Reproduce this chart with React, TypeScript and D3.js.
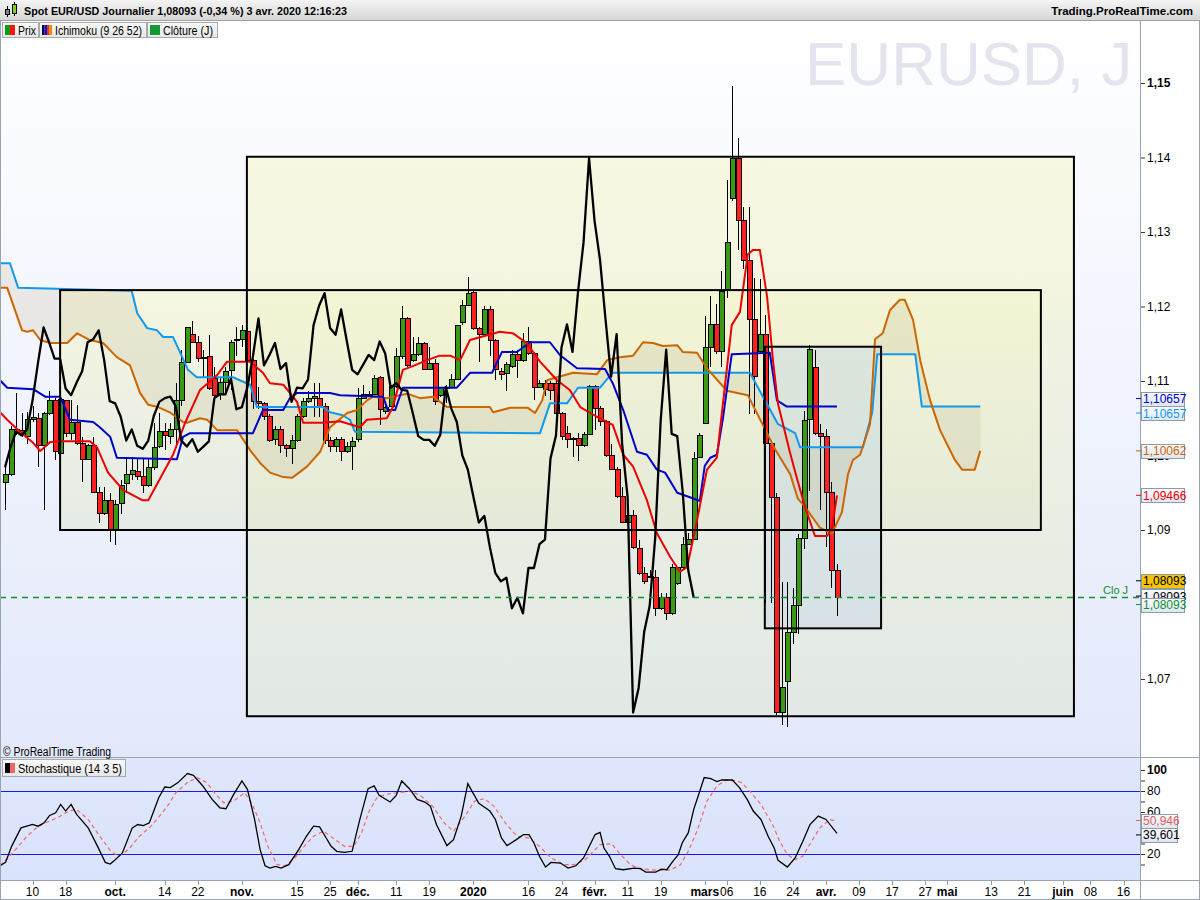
import { useEffect, useRef } from 'react';
import * as d3 from 'd3';

// EUR/USD daily candles, 3 sept. 2019 -> 3 avr. 2020
const opens = [
  1.0964, 1.0974, 1.1035, 1.1034, 1.1025, 1.1048, 1.1050, 1.1014, 1.1057, 1.1074,
  1.1003, 1.1074, 1.1030, 1.1044, 1.1016, 1.0995, 1.1014, 1.0951, 1.0922, 1.0940,
  1.0900, 1.0935, 1.0962, 1.0975, 1.0978, 1.0972, 1.0960, 1.0984, 1.1012, 1.1032,
  1.1025, 1.1035, 1.1074, 1.1125, 1.1163, 1.1152, 1.1132, 1.1133, 1.1103, 1.1083,
  1.1098, 1.1114, 1.1154, 1.1156, 1.1166, 1.1128, 1.1073, 1.1070, 1.1053, 1.1022,
  1.1035, 1.1013, 1.1009, 1.1020, 1.1052, 1.1073, 1.1077, 1.1077, 1.1066, 1.1020,
  1.1012, 1.1022, 1.1005, 1.1012, 1.1021, 1.1077, 1.1081, 1.1082, 1.1105, 1.1059,
  1.1066, 1.1092, 1.1133, 1.1184, 1.1127, 1.1136, 1.1151, 1.1116, 1.1124, 1.1080,
  1.1091, 1.1091, 1.1102, 1.1178, 1.1201, 1.1219, 1.1171, 1.1162, 1.1196, 1.1155,
  1.1113, 1.1110, 1.1120, 1.1135, 1.1128, 1.1153, 1.1137, 1.1091, 1.1097, 1.1096,
  1.1096, 1.1056, 1.1030, 1.1023, 1.1023, 1.1013, 1.1028, 1.1093, 1.1063, 1.1045,
  1.1000, 1.0981, 1.0945, 1.0910, 1.0919, 1.0875, 1.0842, 1.0838, 1.0836, 1.0795,
  1.0809, 1.0788, 1.0828, 1.0849, 1.0881, 1.0887, 1.0997, 1.1043, 1.1145, 1.1176,
  1.1139, 1.1223, 1.1345, 1.1399, 1.1315, 1.1262, 1.1182, 1.1139, 1.1163, 1.1016,
  1.0944, 1.0655, 1.0697, 1.0763, 1.0798, 1.0889, 1.1048, 1.1118, 1.1029, 1.1026,
  1.0951, 1.0845,
];
const highs = [
  1.0985, 1.1039, 1.1084, 1.1057, 1.1059, 1.1066, 1.1057, 1.1059, 1.1086, 1.1077,
  1.1078, 1.1075, 1.1075, 1.1068, 1.1025, 1.1016, 1.1025, 1.0958, 1.0958, 1.0949,
  1.0940, 1.0967, 1.0998, 1.0998, 1.0996, 1.0996, 1.0996, 1.1043, 1.1057, 1.1043,
  1.1043, 1.1097, 1.1142, 1.1173, 1.1180, 1.1160, 1.1142, 1.1162, 1.1119, 1.1106,
  1.1119, 1.1155, 1.1173, 1.1175, 1.1171, 1.1130, 1.1092, 1.1072, 1.1056, 1.1039,
  1.1039, 1.1016, 1.1027, 1.1056, 1.1077, 1.1086, 1.1097, 1.1097, 1.1070, 1.1025,
  1.1025, 1.1025, 1.1018, 1.1025, 1.1090, 1.1094, 1.1086, 1.1108, 1.1107, 1.1068,
  1.1094, 1.1144, 1.1201, 1.1186, 1.1159, 1.1159, 1.1153, 1.1146, 1.1130, 1.1092,
  1.1094, 1.1110, 1.1175, 1.1209, 1.1240, 1.1222, 1.1173, 1.1200, 1.1200, 1.1157,
  1.1117, 1.1126, 1.1142, 1.1142, 1.1164, 1.1173, 1.1139, 1.1101, 1.1101, 1.1100,
  1.1101, 1.1059, 1.1039, 1.1025, 1.1030, 1.1032, 1.1095, 1.1095, 1.1066, 1.1048,
  1.1016, 1.0985, 1.0958, 1.0920, 1.0927, 1.0887, 1.0851, 1.0846, 1.0846, 1.0815,
  1.0815, 1.0855, 1.0851, 1.0891, 1.0896, 1.1005, 1.1030, 1.1187, 1.1214, 1.1203,
  1.1248, 1.1370, 1.1496, 1.1426, 1.1334, 1.1334, 1.1238, 1.1237, 1.1189, 1.1016,
  1.0950, 1.0830, 1.0830, 1.0822, 1.0894, 1.1060, 1.1148, 1.1142, 1.1042, 1.1036,
  1.0964, 1.0855,
];
const lows = [
  1.0927, 1.0972, 1.1028, 1.1025, 1.1016, 1.1045, 1.0985, 1.0927, 1.1055, 1.0994,
  1.1001, 1.1025, 1.1021, 1.1014, 1.0965, 1.0994, 1.0949, 1.0909, 1.0920, 1.0884,
  1.0880, 1.0922, 1.0949, 1.0967, 1.0967, 1.0949, 1.0958, 1.0981, 1.1010, 1.1008,
  1.1016, 1.1010, 1.1066, 1.1124, 1.1151, 1.1126, 1.1106, 1.1088, 1.1079, 1.1075,
  1.1083, 1.1088, 1.1133, 1.1146, 1.1127, 1.1063, 1.1063, 1.1048, 1.1018, 1.1014,
  1.1003, 1.0998, 1.0989, 1.1018, 1.1050, 1.1070, 1.1052, 1.1052, 1.1016, 1.1005,
  1.1005, 1.0992, 1.1003, 1.0981, 1.1018, 1.1077, 1.1079, 1.1081, 1.1041, 1.1056,
  1.1065, 1.1090, 1.1130, 1.1119, 1.1126, 1.1133, 1.1115, 1.1115, 1.1068, 1.1079,
  1.1070, 1.1090, 1.1101, 1.1175, 1.1200, 1.1169, 1.1126, 1.1159, 1.1133, 1.1101,
  1.1101, 1.1086, 1.1117, 1.1104, 1.1126, 1.1135, 1.1075, 1.1090, 1.1080, 1.1075,
  1.1055, 1.1021, 1.1010, 1.0998, 1.0992, 1.1012, 1.1027, 1.1034, 1.1039, 1.0998,
  1.0980, 1.0943, 1.0909, 1.0909, 1.0875, 1.0840, 1.0828, 1.0835, 1.0784, 1.0793,
  1.0779, 1.0786, 1.0826, 1.0846, 1.0880, 1.0886, 1.0996, 1.1042, 1.1119, 1.1136,
  1.1119, 1.1212, 1.1342, 1.1276, 1.1251, 1.1056, 1.1056, 1.1136, 1.0802, 1.0802,
  1.0652, 1.0638, 1.0635, 1.0747, 1.0760, 1.0875, 1.0953, 1.1028, 1.0927, 1.0877,
  1.0822, 1.0785,
];
const closes = [
  1.0974, 1.1035, 1.1030, 1.1029, 1.1048, 1.1051, 1.1014, 1.1057, 1.1074, 1.1005,
  1.1075, 1.1030, 1.1044, 1.1016, 1.0995, 1.1014, 1.0951, 1.0922, 1.0940, 1.0900,
  1.0934, 1.0960, 1.0974, 1.0980, 1.0972, 1.0960, 1.0984, 1.1011, 1.1032, 1.1027,
  1.1035, 1.1074, 1.1125, 1.1172, 1.1152, 1.1130, 1.1130, 1.1090, 1.1081, 1.1098,
  1.1113, 1.1152, 1.1156, 1.1168, 1.1128, 1.1073, 1.1070, 1.1052, 1.1020, 1.1035,
  1.1013, 1.1009, 1.1020, 1.1053, 1.1072, 1.1077, 1.1079, 1.1066, 1.1020, 1.1012,
  1.1022, 1.1005, 1.1012, 1.1019, 1.1077, 1.1082, 1.1082, 1.1103, 1.1062, 1.1065,
  1.1092, 1.1133, 1.1184, 1.1121, 1.1135, 1.1151, 1.1116, 1.1124, 1.1072, 1.1091,
  1.1090, 1.1102, 1.1175, 1.1201, 1.1218, 1.1171, 1.1162, 1.1196, 1.1155, 1.1115,
  1.1109, 1.1122, 1.1135, 1.1128, 1.1153, 1.1137, 1.1091, 1.1097, 1.1088, 1.1087,
  1.1057, 1.1026, 1.1021, 1.1021, 1.1013, 1.1028, 1.1092, 1.1063, 1.1045, 1.1000,
  1.0981, 1.0945, 1.0910, 1.0919, 1.0877, 1.0842, 1.0831, 1.0836, 1.0795, 1.0809,
  1.0788, 1.0849, 1.0849, 1.0881, 1.0887, 1.0996, 1.1027, 1.1145, 1.1176, 1.1139,
  1.1220, 1.1286, 1.1399, 1.1315, 1.1262, 1.1182, 1.1106, 1.1163, 1.1016, 1.0944,
  1.0655, 1.0688, 1.0763, 1.0798, 1.0889, 1.1047, 1.1142, 1.1029, 1.1026, 1.0951,
  1.0846, 1.0809,
];

// Ichimoku (9 26 52) lines as [bar index, price] vertices
const tenkan: [number, number][] = [
  [-0.9, 1.1058], [0.4, 1.1048], [2.7, 1.1032], [5.1, 1.1017], [6.4, 1.1006], [8.2, 1.1018],
  [10.0, 1.1019], [15.4, 1.1019], [16.7, 1.1011], [18.7, 1.0977], [21.4, 1.0954], [24.9, 1.094],
  [26.0, 1.094], [30.5, 1.1001], [32.7, 1.1044], [35.4, 1.1088], [38.5, 1.1108], [40.3, 1.1126],
  [44.5, 1.1126], [46.8, 1.1111], [48.1, 1.1097], [50.5, 1.1095], [53.0, 1.1072], [54.1, 1.1044],
  [57.7, 1.1044], [60.8, 1.1046], [64.4, 1.1038], [65.7, 1.1048], [69.3, 1.105], [70.4, 1.1065],
  [72.2, 1.1115], [74.0, 1.112], [76.6, 1.1128], [78.9, 1.1134], [80.8, 1.1134], [82.6, 1.1128],
  [84.4, 1.1155], [89.8, 1.1166], [92.2, 1.1164], [94.7, 1.1151], [97.1, 1.1126], [100.2, 1.1101],
  [102.5, 1.1088], [104.4, 1.1065], [107.4, 1.1052], [110.3, 1.1041], [112.2, 1.1001], [114.0, 1.0985],
  [116.5, 1.094], [118.3, 1.0896], [120.7, 1.0864], [122.5, 1.0844], [123.8, 1.085], [125.6, 1.0913],
  [127.4, 1.0981], [129.2, 1.0997], [131.9, 1.1175], [133.4, 1.1193], [134.8, 1.127], [135.8, 1.1276],
  [137.0, 1.1276], [138.3, 1.1214], [139.4, 1.1126], [140.3, 1.1069], [142.5, 1.1003], [143.7, 1.097],
  [145.2, 1.0931], [147.0, 1.0892], [149.2, 1.0892], [150.1, 1.0903], [151.0, 1.09466],
];
const kijun: [number, number][] = [
  [-0.9, 1.1101], [0.4, 1.1091], [5.1, 1.1089], [7.3, 1.1079], [10.0, 1.1079], [11.8, 1.1048],
  [16.0, 1.1045], [17.2, 1.1038], [19.1, 1.1025], [20.3, 1.0997], [31.2, 1.0995], [32.3, 1.1025],
  [33.6, 1.103], [45.0, 1.103], [46.8, 1.1061], [50.5, 1.1061], [51.7, 1.1077], [53.0, 1.1084],
  [59.0, 1.1084], [60.8, 1.1081], [68.6, 1.1079], [69.5, 1.1061], [70.8, 1.1061], [72.2, 1.1091],
  [82.0, 1.1091], [84.4, 1.1111], [88.4, 1.1111], [90.2, 1.1139], [92.9, 1.1139], [95.3, 1.1152],
  [98.9, 1.1152], [100.7, 1.1135], [103.8, 1.1117], [108.9, 1.1116], [110.3, 1.1097], [112.2, 1.1061],
  [114.7, 1.1005], [116.5, 1.1001], [118.3, 1.0981], [119.8, 1.0977], [122.0, 1.095], [124.3, 1.0944],
  [126.1, 1.0939], [127.0, 1.0986], [128.0, 1.0997], [129.2, 1.1001], [130.3, 1.105], [131.9, 1.1136],
  [138.8, 1.1138], [140.1, 1.1074], [141.9, 1.10657], [151.0, 1.10657],
];
const senkouA: [number, number][] = [
  [-0.9, 1.1225], [0.4, 1.1225], [3.1, 1.1168], [4.0, 1.1166], [5.1, 1.1168], [6.4, 1.1155],
  [8.2, 1.1151], [11.3, 1.1151], [13.1, 1.1164], [15.4, 1.1155], [17.8, 1.1151], [20.3, 1.1132],
  [22.7, 1.1121], [24.5, 1.1084], [26.0, 1.1068], [27.8, 1.1065], [29.9, 1.1058], [32.3, 1.1045],
  [33.0, 1.1044], [35.4, 1.105], [36.7, 1.1048], [38.5, 1.1034], [42.1, 1.1034], [44.5, 1.1007],
  [46.3, 1.099], [48.1, 1.0977], [50.5, 1.0971], [52.1, 1.097], [54.8, 1.0985], [57.2, 1.1005],
  [59.0, 1.1038], [62.1, 1.1057], [63.9, 1.1061], [65.7, 1.1074], [66.8, 1.1079], [69.3, 1.1077],
  [71.7, 1.1081], [73.0, 1.1083], [75.3, 1.1077], [77.7, 1.1079], [80.2, 1.1065], [88.0, 1.1065],
  [88.6, 1.1058], [91.7, 1.1064], [94.9, 1.1064], [96.2, 1.1057], [97.5, 1.1074], [98.4, 1.1101],
  [100.2, 1.1105], [103.1, 1.1111], [107.4, 1.1109], [109.3, 1.1128], [111.6, 1.1132], [114.0, 1.1134],
  [115.8, 1.1152], [117.6, 1.1151], [119.4, 1.1147], [122.0, 1.1148], [123.0, 1.1139], [125.6, 1.1138],
  [127.4, 1.1117], [129.8, 1.1097], [131.0, 1.1087], [134.8, 1.1081], [137.9, 1.1036], [139.7, 1.1009],
  [142.5, 1.0975], [143.9, 1.0942], [145.2, 1.0931], [147.9, 1.0903], [150.1, 1.0895], [151.9, 1.0924],
  [153.0, 1.0975], [153.9, 1.0994], [155.2, 1.1001], [157.0, 1.1042], [157.9, 1.1156], [159.3, 1.1164],
  [160.6, 1.1195], [162.4, 1.1209], [163.3, 1.1209], [164.8, 1.1182], [166.1, 1.1128], [167.9, 1.1074],
  [169.7, 1.1034], [172.4, 1.0994], [173.7, 1.0981], [176.0, 1.0981], [177.0, 1.10062],
];
const senkouB: [number, number][] = [
  [-0.9, 1.1258], [0.9, 1.1258], [2.4, 1.1225], [23.0, 1.1221], [24.0, 1.1191], [25.8, 1.1171],
  [27.6, 1.1168], [28.7, 1.1159], [30.5, 1.1159], [31.8, 1.1138], [33.2, 1.1115], [34.8, 1.1105],
  [41.4, 1.1105], [42.6, 1.1101], [44.5, 1.1095], [45.7, 1.1065], [57.7, 1.1065], [59.0, 1.1058],
  [61.3, 1.1054], [62.6, 1.1048], [63.5, 1.1032], [97.1, 1.103], [98.9, 1.107], [102.0, 1.107],
  [104.0, 1.1091], [108.0, 1.1091], [110.2, 1.1111], [135.2, 1.1111], [138.3, 1.1069], [140.3, 1.1042],
  [143.4, 1.103], [144.3, 1.1011], [155.7, 1.1011], [157.4, 1.1058], [158.3, 1.1136], [165.2, 1.1136],
  [166.4, 1.10657], [177.0, 1.10657],
];
const chikouShift = 26;

// Stochastique (14 3 5): %K and %D as [bar index, value]
const stochK: [number, number][] = [
  [-0.9, 8.8], [0.1, 12], [1.2, 27.3], [2.9, 44.9], [5.0, 48.1], [6.0, 46.5], [7.1, 49.7], [8.1, 56.7],
  [9.2, 59.3], [10.1, 67.2], [11.0, 60.9], [12.0, 67.2], [13.0, 57.7], [15.1, 44.9], [16.8, 27.3],
  [18.2, 12], [19.1, 10.4], [20.0, 14.6], [21.3, 21], [23.1, 44.9], [24.1, 48.1], [25.1, 47.1],
  [26.2, 49.7], [27.9, 73.6], [29.0, 83.8], [30.0, 83.2], [31.4, 88], [33.1, 96.6], [34.2, 95],
  [35.9, 84.8], [37.6, 72], [39.0, 64], [40.1, 63.1], [41.5, 76.8], [43.0, 89.6], [44.0, 81.6],
  [45.3, 52.9], [46.3, 24.2], [47.2, 8.8], [48.1, 6.6], [49.1, 8.2], [50.1, 6.6], [51.5, 9.8],
  [53.3, 24.2], [54.7, 36.9], [56.0, 46.5], [57.1, 45.9], [58.1, 36.9], [59.2, 27.3], [60.2, 22.6],
  [61.6, 21.6], [63.0, 22.6], [64.4, 52.9], [65.9, 82.2], [67.0, 84.8], [67.9, 75.8], [69.9, 69.5],
  [71.0, 75.8], [72.0, 89.6], [73.4, 82.2], [74.8, 72], [76.2, 69.5], [77.2, 65.6], [78.3, 48.1],
  [80.2, 28], [81.4, 33.7], [82.8, 56.1], [84.0, 87], [84.9, 78.4], [86.0, 68.2], [88.0, 60.9],
  [89.0, 52.9], [90.1, 35.3], [91.1, 28], [92.8, 33.7], [94.1, 38.5], [95.1, 38.5], [96.0, 30.5],
  [97.0, 17.8], [98.1, 7.6], [99.1, 12], [100.8, 11.4], [102.2, 6.6], [103.6, 8.8], [105.0, 16.2],
  [107.1, 38.5], [108.0, 40.5], [108.7, 25.7], [109.7, 17.8], [110.8, 6], [112.2, 5], [114.2, 6.6],
  [115.3, 6], [116.3, 2.8], [118.1, 2.8], [119.1, 5.6], [120.1, 5], [121.2, 13], [122.2, 19.4],
  [122.9, 30.5], [124.0, 40.1], [125.0, 62.5], [126.0, 78.4], [126.9, 92.8], [128.1, 91.8],
  [129.2, 88.9], [130.1, 90.5], [132.0, 90.5], [133.3, 83.2], [134.7, 72], [135.8, 60.9],
  [137.2, 52.9], [138.5, 36.9], [139.6, 25.7], [140.3, 13.9], [142.0, 7.6], [143.4, 16.2],
  [144.8, 32.1], [146.1, 48.1], [147.6, 56.1], [149.0, 52.9], [151.0, 39.601],
];
const stochD: [number, number][] = [
  [-0.9, 8.8], [0.5, 16.2], [1.9, 24.2], [4.0, 36.9], [5.7, 44.9], [7.4, 49.7], [9.5, 54.5],
  [11.6, 60.9], [13.0, 62.5], [15.1, 52.9], [17.2, 36.9], [19.2, 22.6], [20.6, 17.8], [22.4, 24.2],
  [24.4, 36.9], [26.5, 46.5], [28.3, 57.7], [29.7, 67.2], [31.0, 78.4], [33.1, 88], [34.9, 92.8],
  [36.6, 88], [38.0, 78.4], [39.7, 68.8], [41.5, 70.4], [43.5, 78.4], [44.9, 67.2], [46.3, 49.7],
  [47.7, 27.3], [49.4, 9.8], [50.8, 8.8], [52.6, 16.2], [54.3, 27.3], [56.0, 36.9], [57.8, 41.7],
  [59.5, 35.3], [61.6, 27.3], [63.3, 27.3], [64.7, 40.1], [66.1, 60.9], [67.5, 73.6], [69.2, 76.8],
  [71.3, 78.4], [73.7, 80], [75.5, 75.2], [77.6, 65.6], [79.7, 49.7], [81.4, 41.7], [83.5, 56.1],
  [85.2, 70.4], [87.0, 72.7], [88.7, 65.6], [90.8, 49.7], [92.9, 36.9], [95.0, 35.3], [97.0, 27.3],
  [99.1, 16.2], [101.5, 9.8], [103.3, 9.8], [105.3, 14.6], [108.0, 29], [110.1, 29.8], [111.5, 20.8],
  [113.5, 9.8], [114.9, 6.6], [117.0, 5], [119.1, 4.4], [120.8, 5], [122.6, 9.8], [124.0, 22.6],
  [125.7, 43.3], [127.4, 70.4], [129.2, 84.8], [130.9, 90.5], [132.3, 90.2], [133.7, 88],
  [135.4, 78.4], [137.2, 67.2], [139.3, 48.1], [140.6, 32.1], [142.0, 19.4], [143.4, 14.6],
  [144.8, 17.8], [146.2, 30.5], [147.9, 44.9], [149.7, 52.9], [151.0, 50.946],
];

// drawn rectangles: [from bar, to bar, top price, bottom price]
const boxes: [number, number, number, number][] = [
  [43.9, 194.0, 1.1401, 1.0650],
  [10.0, 188.0, 1.1222, 1.0900],
  [137.9, 159.0, 1.1146, 1.0768],
];

const priceTicks = [1.07, 1.08, 1.09, 1.10, 1.11, 1.12, 1.13, 1.14, 1.15];
const stochTicks = [10, 20, 30, 40, 50, 60, 70, 80, 90, 100];
const stochLabels = [20, 40, 60, 80, 100];
const stochLevels = [20, 80];

const firstDay = '2019-09-03';
const holidays = ['2019-12-25', '2020-01-01'];
const dayTicks = [
  '2019-09-10', '2019-09-18', '2019-10-14', '2019-10-22', '2019-11-15', '2019-11-25',
  '2019-12-11', '2019-12-19', '2020-01-16', '2020-01-24', '2020-02-11', '2020-02-19',
  '2020-03-06', '2020-03-16', '2020-03-24', '2020-04-09', '2020-04-17', '2020-04-27',
  '2020-05-13', '2020-05-21', '2020-06-08', '2020-06-16',
];
const monthTicks = [
  ['2019-10-01', 'oct.'], ['2019-11-01', 'nov.'], ['2019-12-02', 'déc.'], ['2020-01-02', '2020'],
  ['2020-02-03', 'févr.'], ['2020-03-02', 'mars'], ['2020-04-01', 'avr.'], ['2020-05-01', 'mai'],
  ['2020-06-01', 'juin'],
];

const lastLabels = [
  { v: 1.10657, color: '#0000cc', off: -8 },
  { v: 1.10657, color: '#1199ee', off: 6.5 },
  { v: 1.10062, color: '#cc6600', off: 0 },
  { v: 1.09466, color: '#ee0000', off: 0 },
  { v: 1.08093, color: '#000000', off: -1.5 },
  { v: 1.08093, color: '#109030', off: 7 },
];

const FONT = '"Liberation Sans", Arial, sans-serif';

export default function App() {
  const svgRef = useRef<SVGSVGElement>(null);

  useEffect(() => {
    document.body.style.margin = '0';
    if (!svgRef.current) return;
    const svg = d3.select(svgRef.current);
    svg.selectAll('*').remove();

    const W = 1200, H = 900;
    const plotR = 1140, mainTop = 20, mainBot = 757, stTop = 758, stBot = 880;

    const loc = d3.formatLocale({ decimal: ',', thousands: ' ', grouping: [3], currency: ['', ' €'] });
    const f2 = loc.format('.2f'), f5 = loc.format('.5f'), f3 = loc.format('.3f');

    const x = d3.scaleLinear().domain([0, closes.length - 1]).range([5, 837]);
    const y = d3.scaleLinear().domain([1.05953, 1.15604]).range([mainBot, 38]);
    const ys = d3.scaleLinear().domain([0, 100]).range([875, 770]);

    // calendar (weekdays, without holidays)
    const iso = d3.timeFormat('%Y-%m-%d');
    const days = d3.timeDay
      .range(d3.timeParse('%Y-%m-%d')(firstDay)!, new Date(2020, 6, 1))
      .filter(d => d.getDay() % 6 !== 0 && !holidays.includes(iso(d)));
    const idxOf = (s: string) => days.findIndex(d => iso(d) === s);

    const defs = svg.append('defs');
    const grad = (id: string, stops: [number, string, number?][]) => {
      const g = defs.append('linearGradient').attr('id', id).attr('x1', 0).attr('y1', 0).attr('x2', 0).attr('y2', 1);
      stops.forEach(([o, c, op]) => g.append('stop').attr('offset', o).attr('stop-color', c).attr('stop-opacity', op ?? 1));
    };
    grad('bgMain', [[0, '#ffffff'], [1, '#e3e9fb']]);
    grad('bgStoch', [[0, '#dfe7fd'], [1, '#dae3fc']]);
    grad('hdr', [[0, '#f4f4f4'], [1, '#d6d6d6']]);
    grad('box', [[0, '#f6f6c8', 0.55], [1, '#dfe6cf', 0.5]]);
    grad('lbl', [[0, '#fafcff'], [1, '#dde5f1']]);
    grad('leg', [[0, '#fafafa'], [1, '#e6e6e6']]);

    defs.append('clipPath').attr('id', 'clipMain').append('rect')
      .attr('x', 0).attr('y', mainTop).attr('width', plotR).attr('height', mainBot - mainTop);
    defs.append('clipPath').attr('id', 'clipSt').append('rect')
      .attr('x', 0).attr('y', stTop).attr('width', plotR).attr('height', stBot - stTop);

    svg.append('rect').attr('width', W).attr('height', H).attr('fill', '#ffffff');
    svg.append('rect').attr('x', 0).attr('y', mainTop).attr('width', plotR).attr('height', mainBot - mainTop).attr('fill', 'url(#bgMain)');
    svg.append('rect').attr('x', 0).attr('y', stTop).attr('width', plotR).attr('height', stBot - stTop).attr('fill', 'url(#bgStoch)');

    // watermark
    svg.append('text').attr('x', 805).attr('y', 85).attr('font-family', FONT).attr('font-size', 62)
      .attr('fill', '#e3e4ef').text('EURUSD, J');

    const main = svg.append('g').attr('clip-path', 'url(#clipMain)');

    // rectangles (fill)
    main.selectAll('.boxf').data(boxes).enter().append('rect')
      .attr('x', d => x(d[0])).attr('y', d => y(d[2]))
      .attr('width', d => x(d[1]) - x(d[0])).attr('height', d => y(d[3]) - y(d[2]))
      .attr('fill', (_, i) => (i === 2 ? 'rgba(196,214,228,0.45)' : 'url(#box)'));

    // kumo
    const line = d3.line<[number, number]>().x(d => x(d[0])).y(d => y(d[1]));
    const cloud = senkouA.concat(senkouB.slice().reverse());
    main.append('path').attr('d', line(cloud) + 'Z').attr('fill', '#b8ae88').attr('fill-opacity', 0.2);

    // candles
    const cg = main.append('g').attr('shape-rendering', 'crispEdges');
    closes.forEach((c, i) => {
      const o = opens[i], cx = Math.round(x(i)) + 0.5;
      cg.append('line').attr('x1', cx).attr('x2', cx).attr('y1', y(highs[i])).attr('y2', y(lows[i]))
        .attr('stroke', '#000').attr('stroke-width', 1);
      const top = y(Math.max(o, c)), bot = y(Math.min(o, c));
      cg.append('rect').attr('x', cx - 2.5).attr('y', top).attr('width', 5).attr('height', Math.max(1, bot - top))
        .attr('fill', c >= o ? '#3a9a16' : '#ff2020').attr('stroke', '#000').attr('stroke-width', 1);
    });

    // ichimoku lines
    const lines: [[number, number][], string, number][] = [
      [senkouB, '#1199ee', 2], [senkouA, '#cc6600', 2], [kijun, '#0000cc', 2], [tenkan, '#ee0000', 2],
    ];
    lines.forEach(([d, col, w]) => {
      main.append('path').attr('d', line(d)).attr('fill', 'none').attr('stroke', col)
        .attr('stroke-width', w).attr('stroke-linejoin', 'round');
    });
    const chikou = closes.slice(chikouShift).map((c, i) => [i, c] as [number, number]);
    main.append('path').attr('d', line(chikou)).attr('fill', 'none').attr('stroke', '#000')
      .attr('stroke-width', 2.3).attr('stroke-linejoin', 'round');

    // rectangles (outline)
    main.selectAll('.boxs').data(boxes).enter().append('rect')
      .attr('x', d => x(d[0])).attr('y', d => y(d[2]))
      .attr('width', d => x(d[1]) - x(d[0])).attr('height', d => y(d[3]) - y(d[2]))
      .attr('fill', 'none').attr('stroke', '#000').attr('stroke-width', 2);

    // last close line
    const last = closes[closes.length - 1];
    main.append('line').attr('x1', 0).attr('x2', plotR).attr('y1', y(1.08093)).attr('y2', y(1.08093))
      .attr('stroke', '#109030').attr('stroke-width', 1.6).attr('stroke-dasharray', '6,5');
    svg.append('text').attr('x', 1103).attr('y', y(1.08093) - 4).attr('font-family', FONT).attr('font-size', 11)
      .attr('fill', '#109030').text('Clo J');

    // stochastic panel
    const st = svg.append('g').attr('clip-path', 'url(#clipSt)');
    stochLevels.forEach(v => st.append('line').attr('x1', 0).attr('x2', plotR).attr('y1', ys(v) + 0.5).attr('y2', ys(v) + 0.5)
      .attr('stroke', '#1a1ae0').attr('stroke-width', 1));
    const sline = d3.line<[number, number]>().x(d => x(d[0])).y(d => ys(d[1]));
    st.append('path').attr('d', sline(stochD)).attr('fill', 'none').attr('stroke', '#f06a6a')
      .attr('stroke-width', 1.2).attr('stroke-dasharray', '4,3');
    st.append('path').attr('d', sline(stochK)).attr('fill', 'none').attr('stroke', '#000').attr('stroke-width', 1.3);

    // separators / frame
    const sep = '#97a4b4';
    svg.append('line').attr('x1', 0).attr('x2', W).attr('y1', stTop - 0.5).attr('y2', stTop - 0.5).attr('stroke', sep);
    svg.append('line').attr('x1', 0).attr('x2', W).attr('y1', stBot + 0.5).attr('y2', stBot + 0.5).attr('stroke', sep);
    svg.append('line').attr('x1', plotR + 0.5).attr('x2', plotR + 0.5).attr('y1', mainTop).attr('y2', H).attr('stroke', sep);
    svg.append('rect').attr('x', 0.5).attr('y', 0.5).attr('width', W - 1).attr('height', H - 1).attr('fill', 'none').attr('stroke', sep);

    // right price axis
    const ax = svg.append('g').attr('transform', `translate(${plotR + 1},0)`)
      .call(d3.axisRight(y).tickValues(priceTicks).tickSize(4).tickPadding(2).tickFormat(d => f2(+d)));
    ax.select('.domain').remove();
    ax.selectAll('line').attr('stroke', '#333');
    ax.selectAll('text').attr('font-family', FONT).attr('font-size', 12).attr('fill', '#000')
      .attr('font-weight', d => (Math.round(+d * 100) % 5 === 0 ? 'bold' : 'normal'));

    const sax = svg.append('g').attr('transform', `translate(${plotR + 1},0)`)
      .call(d3.axisRight(ys).tickValues(stochTicks).tickSize(4).tickPadding(2)
        .tickFormat(d => (stochLabels.includes(+d) ? String(d) : '')));
    sax.select('.domain').remove();
    sax.selectAll('line').attr('stroke', '#333');
    sax.selectAll('text').attr('font-family', FONT).attr('font-size', 12).attr('fill', '#000')
      .attr('font-weight', d => (+d === 100 ? 'bold' : 'normal'));

    // value labels on axis
    const valueBox = (cy: number, txt: string, col: string, w: number, fill = 'url(#lbl)') => {
      svg.append('line').attr('x1', plotR - 4).attr('x2', plotR + 2).attr('y1', cy).attr('y2', cy).attr('stroke', col);
      svg.append('rect').attr('x', plotR + 1.5).attr('y', Math.round(cy - 7) + 0.5).attr('width', w).attr('height', 14)
        .attr('fill', fill).attr('stroke', '#8d9bad');
      svg.append('text').attr('x', plotR + 3).attr('y', cy + 4.5).attr('font-family', FONT).attr('font-size', 12)
        .attr('fill', col).text(txt);
    };
    lastLabels.forEach(l => valueBox(y(l.v) + l.off, f5(l.v), l.color, 43));
    valueBox(y(last) - 17, f5(1.08093), '#000', 43, '#f7c500');
    valueBox(ys(stochD[stochD.length - 1][1]) - 1, f3(stochD[stochD.length - 1][1]), '#e06060', 36);
    valueBox(ys(stochK[stochK.length - 1][1]) + 1.5, f3(stochK[stochK.length - 1][1]), '#000', 36);

    // time axis
    const tg = svg.append('g').attr('font-family', FONT).attr('font-size', 12).attr('text-anchor', 'middle');
    const tickMark = (xx: number) => tg.append('line').attr('x1', Math.round(xx) + 0.5).attr('x2', Math.round(xx) + 0.5)
      .attr('y1', stBot + 1).attr('y2', stBot + 5).attr('stroke', '#8d9bad');
    dayTicks.forEach(s => {
      tickMark(x(idxOf(s)));
      tg.append('text').attr('x', x(idxOf(s))).attr('y', 896).attr('fill', '#000').text(s.slice(8));
    });
    monthTicks.forEach(([s, lab]) => {
      const xx = x(idxOf(s));
      tickMark(xx);
      tg.append('text').attr('x', xx).attr('y', 896).attr('font-weight', 'bold').attr('fill', '#000').text(lab);
    });

    // header
    svg.append('rect').attr('x', 0).attr('y', 0).attr('width', W).attr('height', 20).attr('fill', 'url(#hdr)');
    svg.append('line').attr('x1', 0).attr('x2', W).attr('y1', 20.5).attr('y2', 20.5).attr('stroke', '#a0a0a0');
    const ic = svg.append('g').attr('shape-rendering', 'crispEdges');
    ic.append('line').attr('x1', 7.5).attr('x2', 7.5).attr('y1', 6).attr('y2', 17).attr('stroke', '#000');
    ic.append('rect').attr('x', 5.5).attr('y', 9.5).attr('width', 4).attr('height', 5).attr('fill', '#888').attr('stroke', '#000');
    ic.append('line').attr('x1', 14.5).attr('x2', 14.5).attr('y1', 2).attr('y2', 16).attr('stroke', '#000');
    ic.append('rect').attr('x', 12.5).attr('y', 4.5).attr('width', 4).attr('height', 9).attr('fill', '#7ed320').attr('stroke', '#000');
    svg.append('text').attr('x', 24).attr('y', 15).attr('font-family', FONT).attr('font-size', 11.5).attr('font-weight', 'bold')
      .attr('textLength', 323).attr('lengthAdjust', 'spacingAndGlyphs')
      .text('Spot EUR/USD Journalier 1,08093 (-0,34 %) 3 avr. 2020 12:16:23');
    svg.append('text').attr('x', 1193).attr('y', 15).attr('font-family', FONT).attr('font-size', 11.5).attr('font-weight', 'bold')
      .attr('text-anchor', 'end').text('Trading.ProRealTime.com');

    // legend boxes
    const legend = (x0: number, w: number, yy: number, h: number, label: string, cols: string[], tw: number) => {
      svg.append('rect').attr('x', x0 + 0.5).attr('y', yy + 0.5).attr('width', w).attr('height', h)
        .attr('fill', 'url(#leg)').attr('stroke', '#a9a9a9');
      const sw = 10 / cols.length;
      cols.forEach((c, i) => svg.append('rect').attr('x', x0 + 3 + i * sw).attr('y', yy + h / 2 - 4.5).attr('width', sw).attr('height', 10).attr('fill', c));
      svg.append('text').attr('x', x0 + 16).attr('y', yy + h / 2 + 5).attr('font-family', FONT).attr('font-size', 12.5)
        .attr('textLength', tw).attr('lengthAdjust', 'spacingAndGlyphs').text(label);
    };
    legend(2, 36, 22, 15, 'Prix', ['#119911', '#ff1111'], 18);
    legend(39, 107, 22, 15, 'Ichimoku (9 26 52)', ['#000044', '#1111cc', '#ee3311', '#ee8811'], 87);
    legend(147, 70, 22, 15, 'Clôture (J)', ['#119933', '#119933'], 50);
    svg.append('text').attr('x', 3).attr('y', 756).attr('font-family', FONT).attr('font-size', 12.5)
      .attr('textLength', 108).attr('lengthAdjust', 'spacingAndGlyphs').text('© ProRealTime Trading');
    legend(2, 123, 759, 17, 'Stochastique (14 3 5)', ['#000000', '#ee6666'], 104);
  }, []);

  return <svg ref={svgRef} width={1200} height={900} style={{ display: 'block' }} />;
}
